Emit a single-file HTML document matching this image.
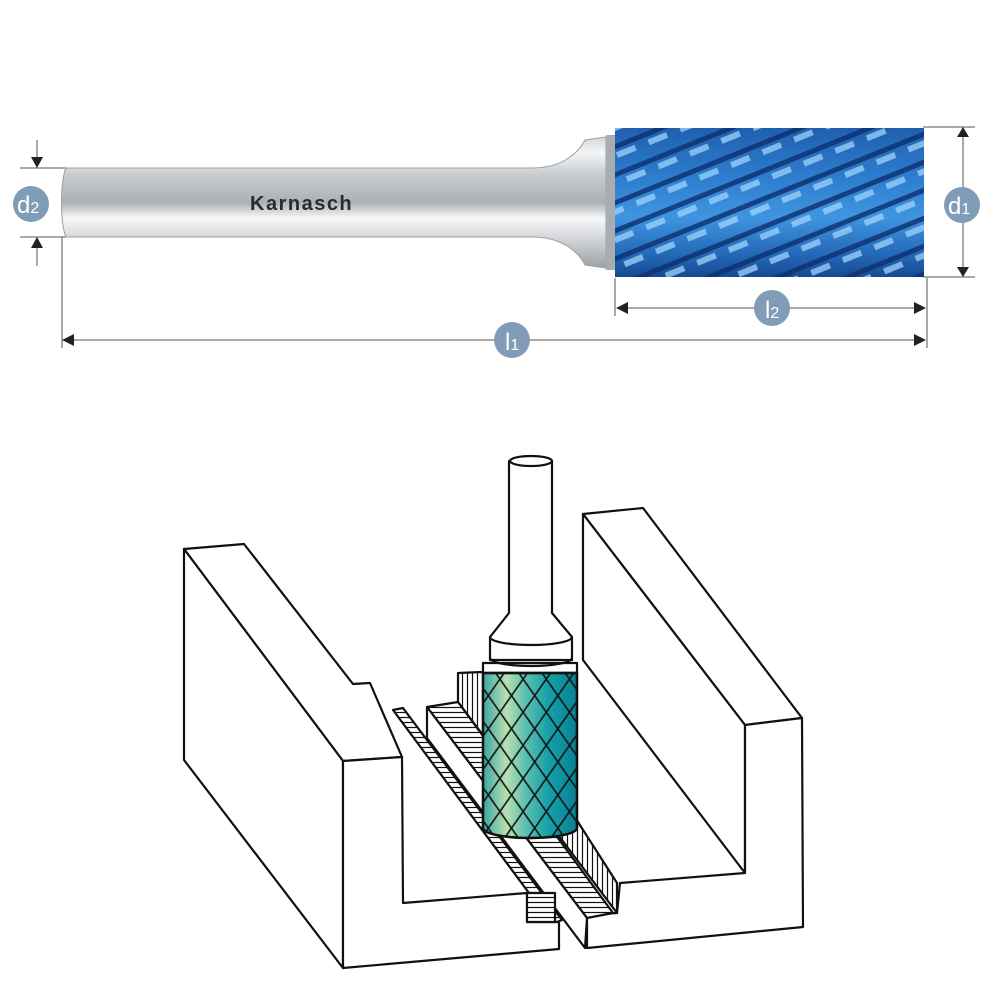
<!DOCTYPE html>
<html><head><meta charset="utf-8"><style>html,body{margin:0;padding:0;background:#fff}svg{display:block}</style></head>
<body>
<svg width="1000" height="1000" viewBox="0 0 1000 1000" xmlns="http://www.w3.org/2000/svg">
<defs>
<linearGradient id="sh" x1="0" y1="0" x2="0" y2="1">
<stop offset="0" stop-color="#d4d7da"/><stop offset="0.12" stop-color="#f4f5f6"/><stop offset="0.3" stop-color="#c6cacd"/><stop offset="0.5" stop-color="#acb0b5"/><stop offset="0.62" stop-color="#f7f8f9"/><stop offset="0.8" stop-color="#cdd0d3"/><stop offset="1" stop-color="#9ca1a6"/>
</linearGradient>
<linearGradient id="hd" x1="0" y1="0" x2="0" y2="1">
<stop offset="0" stop-color="#1f5fae"/><stop offset="0.35" stop-color="#2f7fd0"/><stop offset="0.6" stop-color="#3f95e0"/><stop offset="0.85" stop-color="#2468b8"/><stop offset="1" stop-color="#164a92"/>
</linearGradient>
<pattern id="flute" width="34" height="26" patternUnits="userSpaceOnUse" patternTransform="rotate(-22)">
<rect width="34" height="26" fill="none"/>
<rect x="0" y="0" width="34" height="5" fill="#0d2f6e" opacity="0.8"/>
<rect x="4" y="8" width="20" height="6" fill="#9fd3fa" opacity="0.75"/>
</pattern>
<linearGradient id="cyl" x1="0" y1="0" x2="1" y2="0">
<stop offset="0" stop-color="#3aa6a4"/><stop offset="0.25" stop-color="#b9e0b0"/><stop offset="0.45" stop-color="#5cc0b0"/><stop offset="0.7" stop-color="#14a0a8"/><stop offset="1" stop-color="#0a8094"/>
</linearGradient>
<clipPath id="cc"><path d="M483,673 L577,673 L577,828 A47,10 0 0 1 483,828 Z"/></clipPath>
<pattern id="hh" width="6" height="5" patternUnits="userSpaceOnUse"><rect width="6" height="5" fill="#fff"/><line x1="0" y1="2.5" x2="6" y2="2.5" stroke="#111" stroke-width="1.2"/></pattern>
<pattern id="hv" width="5" height="6" patternUnits="userSpaceOnUse"><rect width="5" height="6" fill="#fff"/><line x1="2.5" y1="0" x2="2.5" y2="6" stroke="#111" stroke-width="1.2"/></pattern>
<pattern id="xa" width="19" height="400" patternUnits="userSpaceOnUse" patternTransform="rotate(35)"><line x1="1" y1="0" x2="1" y2="400" stroke="#111" stroke-width="1.6"/></pattern>
<pattern id="xb" width="19" height="400" patternUnits="userSpaceOnUse" patternTransform="rotate(-35)"><line x1="1" y1="0" x2="1" y2="400" stroke="#111" stroke-width="1.6"/></pattern>
</defs>

<!-- ===== TOP: tool ===== -->
<g stroke="#555" stroke-width="1" fill="none">
<line x1="20" y1="168" x2="66" y2="168"/><line x1="20" y1="237" x2="66" y2="237"/>
<line x1="37" y1="140" x2="37" y2="160"/><line x1="37" y1="246" x2="37" y2="266"/>
<line x1="62" y1="237" x2="62" y2="348"/>
<line x1="615" y1="278" x2="615" y2="316"/><line x1="927" y1="278" x2="927" y2="348"/>
<line x1="923" y1="127" x2="975" y2="127"/><line x1="923" y1="277" x2="975" y2="277"/>
<line x1="963" y1="136" x2="963" y2="268"/>
<line x1="626" y1="308" x2="916" y2="308"/>
<line x1="72" y1="340" x2="916" y2="340"/>
</g>
<g fill="#222">
<path d="M31,157 L43,157 L37,168 Z"/><path d="M31,248 L43,248 L37,237 Z"/>
<path d="M957,137 L969,137 L963,127 Z"/><path d="M957,267 L969,267 L963,277 Z"/>
<path d="M616,308 L628,302 L628,314 Z"/><path d="M926,308 L914,302 L914,314 Z"/>
<path d="M62,340 L74,334 L74,346 Z"/><path d="M926,340 L914,334 L914,346 Z"/>
</g>
<path d="M66,168 L532,168 C565,168 580,150 585,140 L606,137 L606,268 L585,265 C580,255 565,237 532,237 L66,237 C60,225 60,180 66,168 Z" fill="url(#sh)" stroke="#9aa0a6" stroke-width="1"/>
<text x="250" y="210" font-family="Liberation Sans, sans-serif" font-size="20" font-weight="bold" fill="#2b2b2b" letter-spacing="1.5">Karnasch</text>
<rect x="606" y="135" width="12" height="135" fill="#a8adb3"/>
<rect x="615" y="128" width="309" height="149" fill="url(#hd)"/>
<rect x="615" y="128" width="309" height="149" fill="url(#flute)"/>
<g fill="#819cb6">
<circle cx="31" cy="204" r="18"/><circle cx="962" cy="205" r="18"/>
<circle cx="772" cy="308" r="18"/><circle cx="512" cy="340" r="18"/>
</g>
<g fill="#fff" font-family="Liberation Sans, sans-serif" font-size="24">
<text x="17" y="213">d<tspan font-size="16">2</tspan></text>
<text x="948" y="214">d<tspan font-size="16">1</tspan></text>
<text x="765" y="318">l<tspan font-size="16">2</tspan></text>
<text x="505" y="350">l<tspan font-size="16">1</tspan></text>
</g>

<!-- ===== BOTTOM: diagram ===== -->
<g stroke="#111" stroke-width="2.2" stroke-linejoin="round" fill="#fff">
<path d="M583,514 L643,508 L802,718 L745,725 Z"/>
<path d="M583,514 L745,725 L745,873 L583,660 Z"/>
<path d="M745,725 L802,718 L803,927 L587,948 L587,915 L617,913 L620,883 L745,873 Z"/>
<path d="M393,710 L403,708 L562,920 L552,924 Z" fill="url(#hh)"/>
<path d="M458,673 L482,672 L617,883 L617,913 L458,702 Z" fill="url(#hv)"/>
<path d="M427,707 L458,702 L613,913 L587,918 Z" fill="url(#hh)"/>
<path d="M427,707 L427,738 L585,948 L587,918 Z"/>
<path d="M184,549 L244,544 L353,684 L370,683 L402,757 L343,761 Z"/>
<path d="M184,549 L343,761 L343,968 L184,760 Z"/>
<path d="M343,761 L402,757 L403,903 L527,893 L527,922 L559,922 L559,949 L343,968 Z"/>
<rect x="527" y="893" width="28" height="29" fill="url(#hh)"/>
<path d="M509,461 L509,613 L490,637 L490,660 L572,660 L572,637 L552,613 L552,461 Z"/>
<ellipse cx="531" cy="461" rx="21" ry="5"/>
<path d="M490,637 A41,8 0 0 0 572,637" fill="none"/>
<path d="M483,663 L483,673 L577,673 L577,663 Z"/>
<path d="M490,658 A41,8 0 0 0 572,658" fill="none"/>
<path d="M483,673 L577,673 L577,828 A47,10 0 0 1 483,828 Z" fill="url(#cyl)"/>
</g>
<g clip-path="url(#cc)">
<rect x="470" y="660" width="120" height="190" fill="url(#xa)"/>
<rect x="470" y="660" width="120" height="190" fill="url(#xb)"/>
</g>
<path d="M483,673 L577,673 L577,828 A47,10 0 0 1 483,828 Z" fill="none" stroke="#111" stroke-width="2.4"/>
</svg>
</body></html>
